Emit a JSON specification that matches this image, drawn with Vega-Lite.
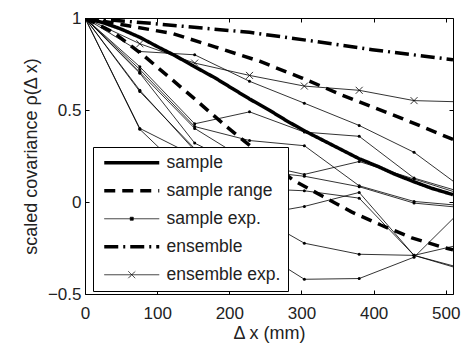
{
  "$schema": "https://vega.github.io/schema/vega-lite/v6.json",
  "width": 368,
  "height": 276,
  "autosize": {"type": "none"},
  "padding": {"left": 85, "top": 18, "right": 11, "bottom": 50},
  "background": "white",
  "config": {
    "view": {"stroke": "black", "strokeWidth": 1},
    "font": "Liberation Sans",
    "axis": {"grid": false, "domain": false, "tickColor": "black", "tickWidth": 1, "labelFontSize": 17, "labelColor": "#222", "titleFontSize": 18, "titleFontWeight": "normal", "titleColor": "#222", "labelFlush": false, "labelOverlap": false}
  },
  "datasets": {
    "thin": [
      {"s": "sample exp.", "id": "A", "x": 0, "y": 1}, {"s": "sample exp.", "id": "A", "x": 76, "y": 0.818}, {"s": "sample exp.", "id": "A", "x": 152, "y": 0.80}, {"s": "sample exp.", "id": "A", "x": 228, "y": 0.656}, {"s": "sample exp.", "id": "A", "x": 304, "y": 0.537}, {"s": "sample exp.", "id": "A", "x": 380, "y": 0.416}, {"s": "sample exp.", "id": "A", "x": 456, "y": 0.27}, {"s": "sample exp.", "id": "A", "x": 532, "y": 0.05},
      {"s": "sample exp.", "id": "B", "x": 0, "y": 1}, {"s": "sample exp.", "id": "B", "x": 76, "y": 0.735}, {"s": "sample exp.", "id": "B", "x": 152, "y": 0.425}, {"s": "sample exp.", "id": "B", "x": 228, "y": 0.49}, {"s": "sample exp.", "id": "B", "x": 304, "y": 0.38}, {"s": "sample exp.", "id": "B", "x": 380, "y": 0.357}, {"s": "sample exp.", "id": "B", "x": 456, "y": 0.13}, {"s": "sample exp.", "id": "B", "x": 532, "y": 0.042},
      {"s": "sample exp.", "id": "C", "x": 0, "y": 1}, {"s": "sample exp.", "id": "C", "x": 76, "y": 0.72}, {"s": "sample exp.", "id": "C", "x": 152, "y": 0.41}, {"s": "sample exp.", "id": "C", "x": 228, "y": 0.334}, {"s": "sample exp.", "id": "C", "x": 304, "y": 0.306}, {"s": "sample exp.", "id": "C", "x": 380, "y": 0.088}, {"s": "sample exp.", "id": "C", "x": 456, "y": 0.003}, {"s": "sample exp.", "id": "C", "x": 532, "y": -0.023},
      {"s": "sample exp.", "id": "D", "x": 0, "y": 1}, {"s": "sample exp.", "id": "D", "x": 76, "y": 0.705}, {"s": "sample exp.", "id": "D", "x": 152, "y": 0.40}, {"s": "sample exp.", "id": "D", "x": 228, "y": 0.216}, {"s": "sample exp.", "id": "D", "x": 304, "y": 0.15}, {"s": "sample exp.", "id": "D", "x": 380, "y": 0.22}, {"s": "sample exp.", "id": "D", "x": 456, "y": 0.125}, {"s": "sample exp.", "id": "D", "x": 532, "y": 0.03},
      {"s": "sample exp.", "id": "E", "x": 0, "y": 1}, {"s": "sample exp.", "id": "E", "x": 76, "y": 0.70}, {"s": "sample exp.", "id": "E", "x": 152, "y": 0.32}, {"s": "sample exp.", "id": "E", "x": 228, "y": 0.173}, {"s": "sample exp.", "id": "E", "x": 304, "y": 0.14}, {"s": "sample exp.", "id": "E", "x": 380, "y": 0.083}, {"s": "sample exp.", "id": "E", "x": 456, "y": -0.006}, {"s": "sample exp.", "id": "E", "x": 532, "y": -0.034},
      {"s": "sample exp.", "id": "F", "x": 0, "y": 1}, {"s": "sample exp.", "id": "F", "x": 76, "y": 0.607}, {"s": "sample exp.", "id": "F", "x": 152, "y": 0.28}, {"s": "sample exp.", "id": "F", "x": 228, "y": 0.074}, {"s": "sample exp.", "id": "F", "x": 304, "y": 0.061}, {"s": "sample exp.", "id": "F", "x": 380, "y": 0.021}, {"s": "sample exp.", "id": "F", "x": 456, "y": -0.29}, {"s": "sample exp.", "id": "F", "x": 532, "y": -0.378},
      {"s": "sample exp.", "id": "G", "x": 0, "y": 1}, {"s": "sample exp.", "id": "G", "x": 76, "y": 0.60}, {"s": "sample exp.", "id": "G", "x": 152, "y": 0.29}, {"s": "sample exp.", "id": "G", "x": 228, "y": -0.077}, {"s": "sample exp.", "id": "G", "x": 304, "y": -0.024}, {"s": "sample exp.", "id": "G", "x": 380, "y": 0.052}, {"s": "sample exp.", "id": "G", "x": 456, "y": -0.29}, {"s": "sample exp.", "id": "G", "x": 532, "y": -0.37},
      {"s": "sample exp.", "id": "H", "x": 0, "y": 1}, {"s": "sample exp.", "id": "H", "x": 76, "y": 0.40}, {"s": "sample exp.", "id": "H", "x": 152, "y": 0.25}, {"s": "sample exp.", "id": "H", "x": 228, "y": -0.054}, {"s": "sample exp.", "id": "H", "x": 304, "y": -0.224}, {"s": "sample exp.", "id": "H", "x": 380, "y": -0.284}, {"s": "sample exp.", "id": "H", "x": 456, "y": -0.29}, {"s": "sample exp.", "id": "H", "x": 532, "y": -0.221},
      {"s": "sample exp.", "id": "I", "x": 0, "y": 1}, {"s": "sample exp.", "id": "I", "x": 76, "y": 0.395}, {"s": "sample exp.", "id": "I", "x": 152, "y": 0.11}, {"s": "sample exp.", "id": "I", "x": 228, "y": -0.233}, {"s": "sample exp.", "id": "I", "x": 304, "y": -0.42}, {"s": "sample exp.", "id": "I", "x": 380, "y": -0.416}, {"s": "sample exp.", "id": "I", "x": 456, "y": -0.30}, {"s": "sample exp.", "id": "I", "x": 532, "y": -0.005},
      {"s": "ensemble exp.", "id": "X", "x": 0, "y": 1}, {"s": "ensemble exp.", "id": "X", "x": 76, "y": 0.86}, {"s": "ensemble exp.", "id": "X", "x": 152, "y": 0.755}, {"s": "ensemble exp.", "id": "X", "x": 228, "y": 0.688}, {"s": "ensemble exp.", "id": "X", "x": 304, "y": 0.63}, {"s": "ensemble exp.", "id": "X", "x": 380, "y": 0.607}, {"s": "ensemble exp.", "id": "X", "x": 456, "y": 0.551}, {"s": "ensemble exp.", "id": "X", "x": 532, "y": 0.543}
    ],
    "thick": [
      {"s": "sample", "id": "s", "x": 0, "y": 1}, {"s": "sample", "id": "s", "x": 25, "y": 0.975}, {"s": "sample", "id": "s", "x": 50, "y": 0.94}, {"s": "sample", "id": "s", "x": 76, "y": 0.895}, {"s": "sample", "id": "s", "x": 100, "y": 0.845}, {"s": "sample", "id": "s", "x": 125, "y": 0.795}, {"s": "sample", "id": "s", "x": 152, "y": 0.735}, {"s": "sample", "id": "s", "x": 180, "y": 0.675}, {"s": "sample", "id": "s", "x": 205, "y": 0.615}, {"s": "sample", "id": "s", "x": 228, "y": 0.56}, {"s": "sample", "id": "s", "x": 255, "y": 0.5}, {"s": "sample", "id": "s", "x": 280, "y": 0.44}, {"s": "sample", "id": "s", "x": 305, "y": 0.385}, {"s": "sample", "id": "s", "x": 330, "y": 0.335}, {"s": "sample", "id": "s", "x": 355, "y": 0.285}, {"s": "sample", "id": "s", "x": 380, "y": 0.235}, {"s": "sample", "id": "s", "x": 405, "y": 0.195}, {"s": "sample", "id": "s", "x": 430, "y": 0.15}, {"s": "sample", "id": "s", "x": 456, "y": 0.11}, {"s": "sample", "id": "s", "x": 480, "y": 0.075}, {"s": "sample", "id": "s", "x": 510, "y": 0.04},
      {"s": "sample range", "id": "ru", "x": 0, "y": 1}, {"s": "sample range", "id": "ru", "x": 50, "y": 0.965}, {"s": "sample range", "id": "ru", "x": 122, "y": 0.915}, {"s": "sample range", "id": "ru", "x": 180, "y": 0.843}, {"s": "sample range", "id": "ru", "x": 242, "y": 0.765}, {"s": "sample range", "id": "ru", "x": 300, "y": 0.675}, {"s": "sample range", "id": "ru", "x": 357, "y": 0.58}, {"s": "sample range", "id": "ru", "x": 439, "y": 0.455}, {"s": "sample range", "id": "ru", "x": 510, "y": 0.34},
      {"s": "sample range", "id": "rl", "x": 0, "y": 1}, {"s": "sample range", "id": "rl", "x": 40, "y": 0.92}, {"s": "sample range", "id": "rl", "x": 80, "y": 0.80}, {"s": "sample range", "id": "rl", "x": 150, "y": 0.567}, {"s": "sample range", "id": "rl", "x": 196, "y": 0.41}, {"s": "sample range", "id": "rl", "x": 240, "y": 0.27}, {"s": "sample range", "id": "rl", "x": 288, "y": 0.12}, {"s": "sample range", "id": "rl", "x": 330, "y": 0.03}, {"s": "sample range", "id": "rl", "x": 370, "y": -0.055}, {"s": "sample range", "id": "rl", "x": 410, "y": -0.125}, {"s": "sample range", "id": "rl", "x": 453, "y": -0.195}, {"s": "sample range", "id": "rl", "x": 495, "y": -0.245}, {"s": "sample range", "id": "rl", "x": 510, "y": -0.26},
      {"s": "ensemble", "id": "e", "x": 0, "y": 1}, {"s": "ensemble", "id": "e", "x": 100, "y": 0.968}, {"s": "ensemble", "id": "e", "x": 228, "y": 0.922}, {"s": "ensemble", "id": "e", "x": 311, "y": 0.877}, {"s": "ensemble", "id": "e", "x": 398, "y": 0.828}, {"s": "ensemble", "id": "e", "x": 510, "y": 0.773}
    ]
  },
  "layer": [
    {
      "data": {"name": "thin"},
      "mark": {"type": "line", "clip": true, "stroke": "black", "strokeWidth": 0.8},
      "encoding": {
        "x": {"field": "x", "type": "quantitative", "scale": {"domain": [0, 510], "nice": false, "zero": false},
              "axis": {"orient": "bottom", "values": [0, 100, 200, 300, 400, 500], "tickSize": -4, "labelPadding": 15, "title": "Δ x (mm)", "titlePadding": 3}},
        "y": {"field": "y", "type": "quantitative", "scale": {"domain": [-0.5, 1], "nice": false, "zero": false},
              "axis": {"orient": "left", "values": [-0.5, 0, 0.5, 1], "format": "~g", "tickSize": -4, "labelPadding": 8, "title": "scaled covariance ρ(Δ x)", "titlePadding": 7}},
        "detail": {"field": "id"},
        "order": {"field": "x"}
      }
    },
    {
      "data": {"name": "thin"},
      "transform": [{"filter": "datum.s === 'sample exp.'"}],
      "mark": {"type": "point", "shape": "circle", "filled": true, "size": 9, "color": "black", "opacity": 1, "clip": true},
      "encoding": {
        "x": {"field": "x", "type": "quantitative", "axis": null},
        "y": {"field": "y", "type": "quantitative", "axis": null}
      }
    },
    {
      "data": {"name": "thin"},
      "transform": [{"filter": "datum.s === 'ensemble exp.'"}],
      "mark": {"type": "point", "shape": "M-1,-1L1,1M-1,1L1,-1", "filled": false, "size": 49, "stroke": "black", "strokeWidth": 0.8, "opacity": 1, "clip": true},
      "encoding": {
        "x": {"field": "x", "type": "quantitative", "axis": null},
        "y": {"field": "y", "type": "quantitative", "axis": null}
      }
    },
    {
      "data": {"name": "thick"},
      "mark": {"type": "line", "clip": true, "stroke": "black", "strokeWidth": 3.5},
      "encoding": {
        "x": {"field": "x", "type": "quantitative", "axis": null},
        "y": {"field": "y", "type": "quantitative", "axis": null},
        "detail": {"field": "id"},
        "order": {"field": "x"},
        "strokeDash": {
          "field": "s", "type": "nominal",
          "scale": {"domain": ["sample", "sample range", "sample exp.", "ensemble", "ensemble exp."], "range": [[1, 0], [11, 7], [1, 0], [14, 5, 2, 5], [1, 0]]},
          "legend": {
            "orient": "none", "legendX": 8, "legendY": 129, "title": null,
            "strokeColor": "black", "fillColor": "white", "padding": 7, "rowPadding": 9,
            "symbolSize": 3025, "symbolOffset": 23, "labelFontSize": 17.5, "labelColor": "#222", "labelOffset": 26,
            "symbolStrokeColor": "black", "symbolStrokeWidth": 3.5, "cornerRadius": 0,
            "encode": {"symbols": {"update": {
              "shape": {"signal": "datum.value === 'sample exp.' ? 'M-1,0H1M-0.055,-0.055H0.055V0.055H-0.055Z' : datum.value === 'ensemble exp.' ? 'M-1,0H1M-0.125,-0.125L0.125,0.125M-0.125,0.125L0.125,-0.125' : 'M-1,0H1'"},
              "strokeWidth": {"signal": "datum.value === 'sample exp.' || datum.value === 'ensemble exp.' ? 0.8 : 3.5"},
              "fill": {"value": "black"},
              "stroke": {"value": "black"},
              "opacity": {"value": 1}
            }}}
          }
        }
      }
    },
    {
      "data": {"name": "thick"},
      "mark": {"type": "point", "opacity": 0},
      "encoding": {
        "x": {"field": "x", "type": "quantitative", "axis": {"orient": "top", "values": [0, 100, 200, 300, 400, 500], "tickSize": -4, "labels": false, "title": null}},
        "y": {"field": "y", "type": "quantitative", "axis": {"orient": "right", "values": [-0.5, 0, 0.5, 1], "tickSize": -4, "labels": false, "title": null}}
      }
    }
  ],
  "resolve": {"axis": {"x": "independent", "y": "independent"}}
}
